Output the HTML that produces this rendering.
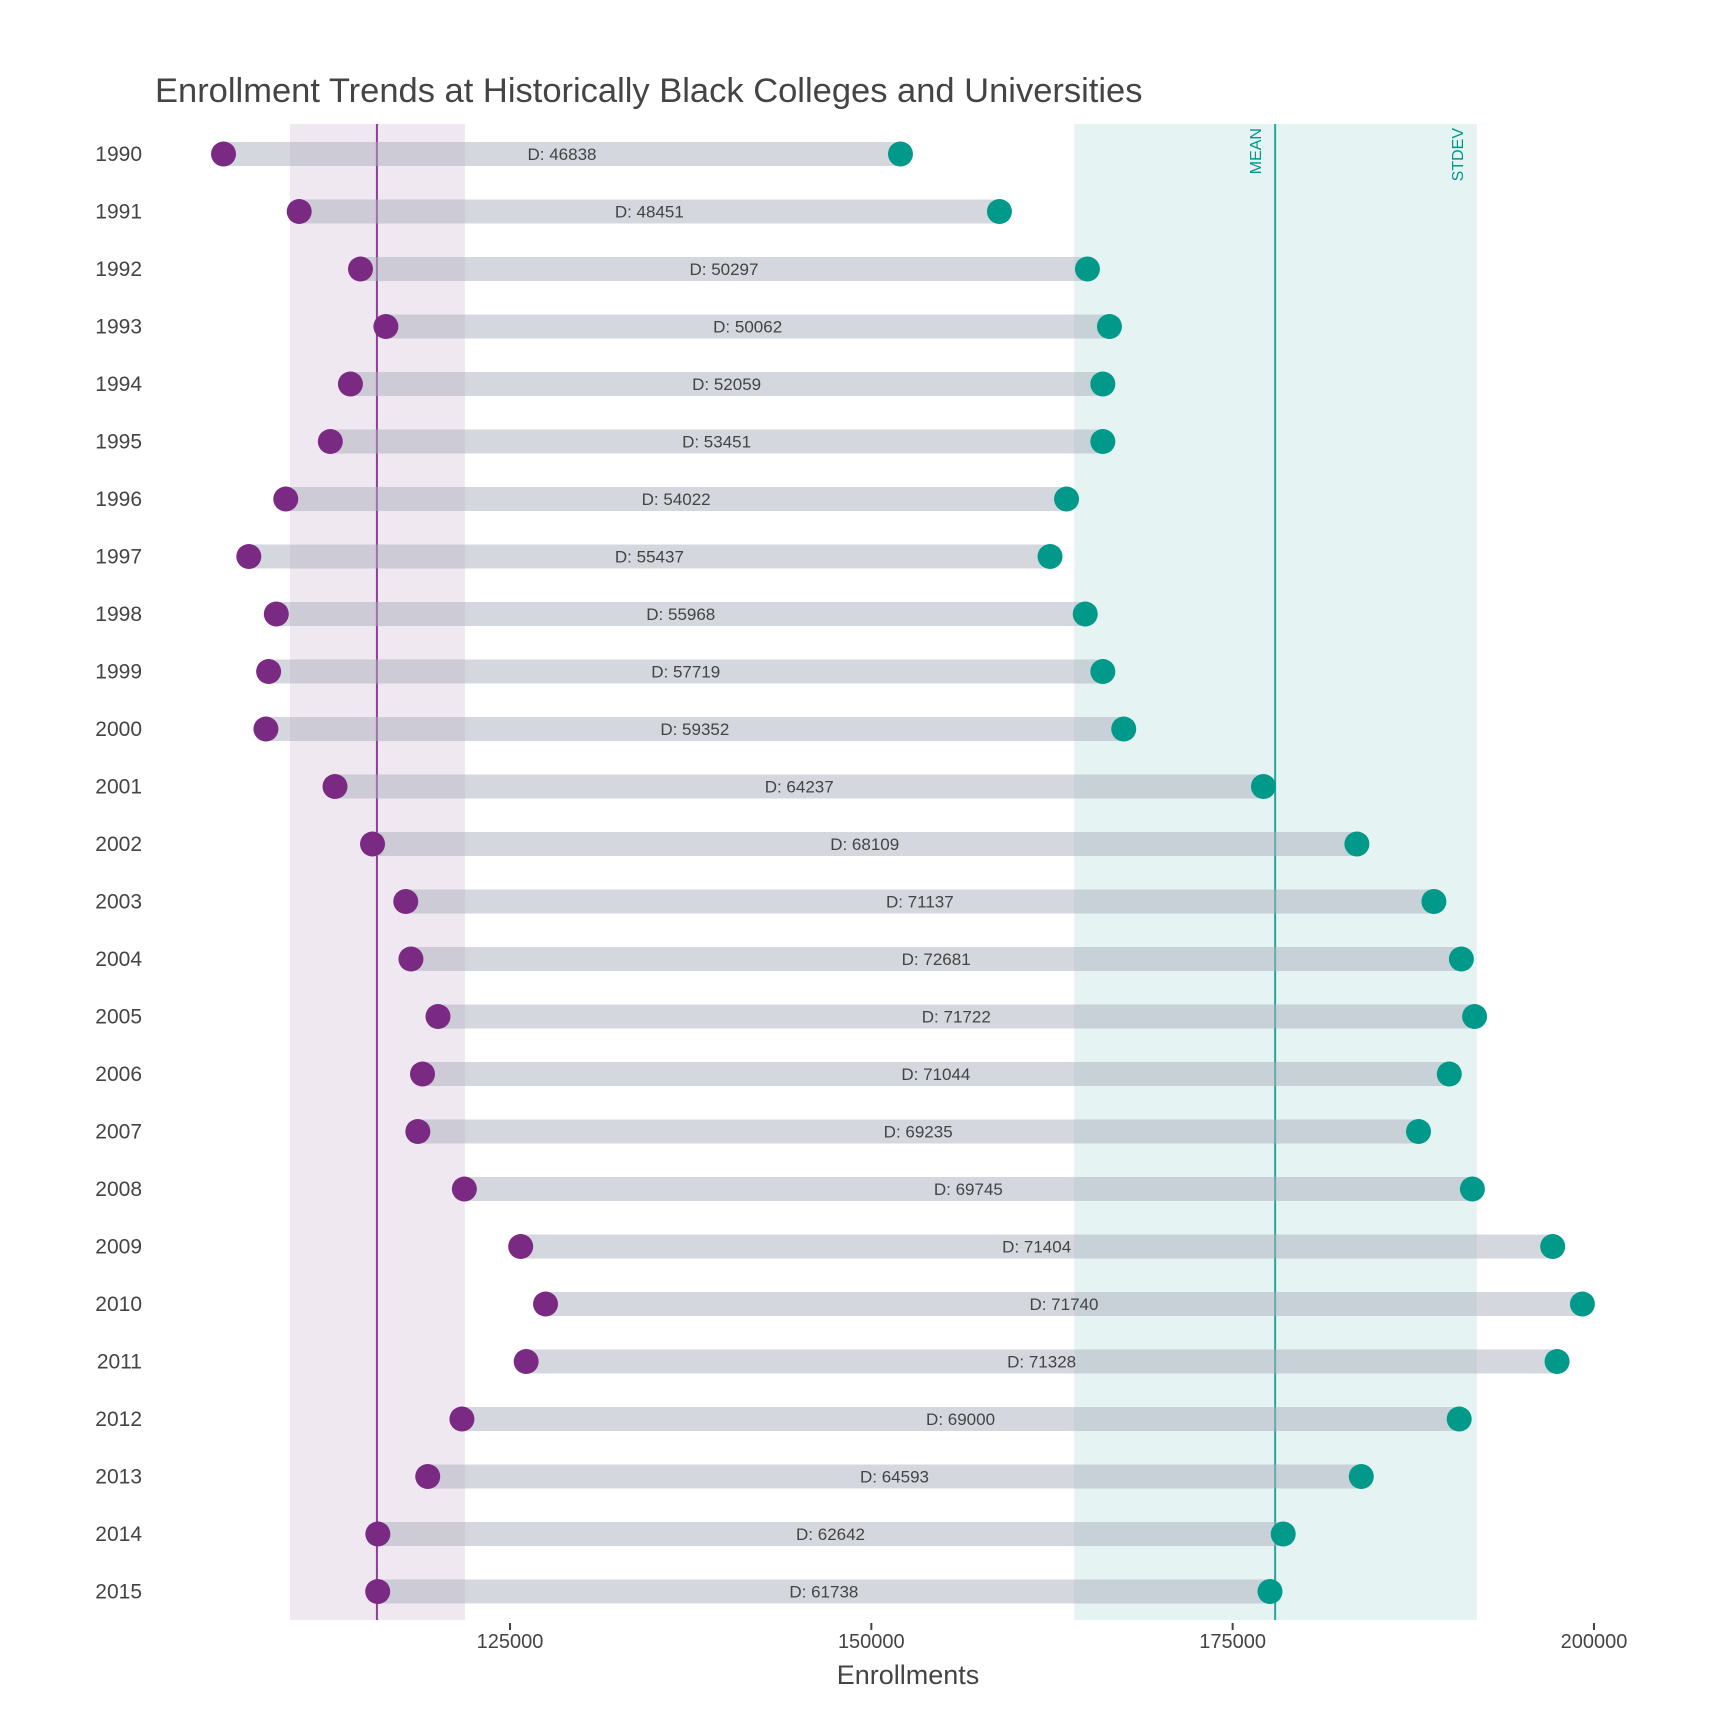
<!DOCTYPE html>
<html><head><meta charset="utf-8"><style>
html,body{margin:0;padding:0;background:#fff;}
svg{display:block;font-family:"Segoe UI","Liberation Sans",sans-serif;}
</style></head><body>
<svg id="chart" width="1728" height="1728" viewBox="0 0 1728 1728" xmlns="http://www.w3.org/2000/svg">
<text x="155" y="102" font-size="34.5" fill="#444">Enrollment Trends at Historically Black Colleges and Universities</text>
<g id="bands"></g><g id="bars"></g><g id="marks"></g><g id="axis"></g>
<text x="908" y="1684" font-size="27" fill="#444" text-anchor="middle">Enrollments</text>
</svg>
<script>
const years = [1990,1991,1992,1993,1994,1995,1996,1997,1998,1999,2000,2001,2002,2003,2004,2005,2006,2007,2008,2009,2010,2011,2012,2013,2014,2015];
const low = [105178,110414,114656,116413,113959,112567,109485,106928,108832,108299,108112,112892,115488,117787,118146,120018,118945,118624,121843,125739,127458,126119,121674,119308,115856,115847];
const high = [152016,158865,164953,166475,166018,166018,163507,162365,164800,166018,167464,177129,183597,188924,190827,191740,189989,187859,191588,197143,199198,197447,190674,183901,178498,177585];
const xTicks = [125000,150000,175000,200000];
const lowStats = [115792,109780,121880];   // mean, band start, band end
const highStats = [177940,164040,191900];

const NS='http://www.w3.org/2000/svg';
const xs = v => 510 + (v-125000)*0.014453;
const ys = i => 154 + i*57.5;
const plotTop=124, plotBottom=1620;
function mk(tag,attrs,parent,text){const el=document.createElementNS(NS,tag);for(const k in attrs)el.setAttribute(k,attrs[k]);if(text!=null)el.textContent=text;document.getElementById(parent).appendChild(el);return el;}

let e;
e=mk('rect',{x:xs(lowStats[1]),y:plotTop,width:xs(lowStats[2])-xs(lowStats[1]),height:plotBottom-plotTop,fill:'#f0e8f1'},'bands');


e=mk('rect',{x:xs(highStats[1]),y:plotTop,width:xs(highStats[2])-xs(highStats[1]),height:plotBottom-plotTop,fill:'#e5f3f2'},'bands');


e=mk('line',{x1:xs(lowStats[0]),x2:xs(lowStats[0]),y1:plotTop,y2:plotBottom,stroke:'#8e3d98','stroke-width':2},'bands');


e=mk('line',{x1:xs(highStats[0]),x2:xs(highStats[0]),y1:plotTop,y2:plotBottom,stroke:'#26a69a','stroke-width':2},'bands');


e=mk('text',{x:0,y:0,transform:`translate(${xs(highStats[0])-14},128) rotate(-90)`,'font-size':16,fill:'#009688','text-anchor':'end'},'bands','MEAN');


e=mk('text',{x:0,y:0,transform:`translate(${xs(highStats[2])-14},128) rotate(-90)`,'font-size':16,fill:'#009688','text-anchor':'end'},'bands','STDEV');



years.forEach((yr,i)=>{
  const yy=ys(i);
  e=mk('rect',{x:xs(low[i]),y:yy-12,width:xs(high[i])-xs(low[i]),height:24,fill:'rgba(170,176,188,0.5)'},'bars');
  
  
  e=mk('text',{x:(xs(low[i])+xs(high[i]))/2,y:yy+6,'font-size':17,fill:'#444','text-anchor':'middle'},'bars','D:  '+(high[i]-low[i]));
  
  
  e=mk('circle',{cx:xs(low[i]),cy:yy,r:12.5,fill:'#7b2a84'},'marks');
  
  
  e=mk('circle',{cx:xs(high[i]),cy:yy,r:12.5,fill:'#00998a'},'marks');
  
  
  e=mk('text',{x:142,y:yy+7,'font-size':21,fill:'#444','text-anchor':'end'},'axis',String(yr));
  
  
});
xTicks.forEach(t=>{
  e=mk('line',{x1:xs(t),x2:xs(t),y1:plotBottom+3,y2:plotBottom+10,stroke:'#444','stroke-width':2},'axis');
  
  
  e=mk('text',{x:xs(t),y:1648,'font-size':20,fill:'#444','text-anchor':'middle'},'axis',String(t));
  
  
});
</script>
</body></html>
